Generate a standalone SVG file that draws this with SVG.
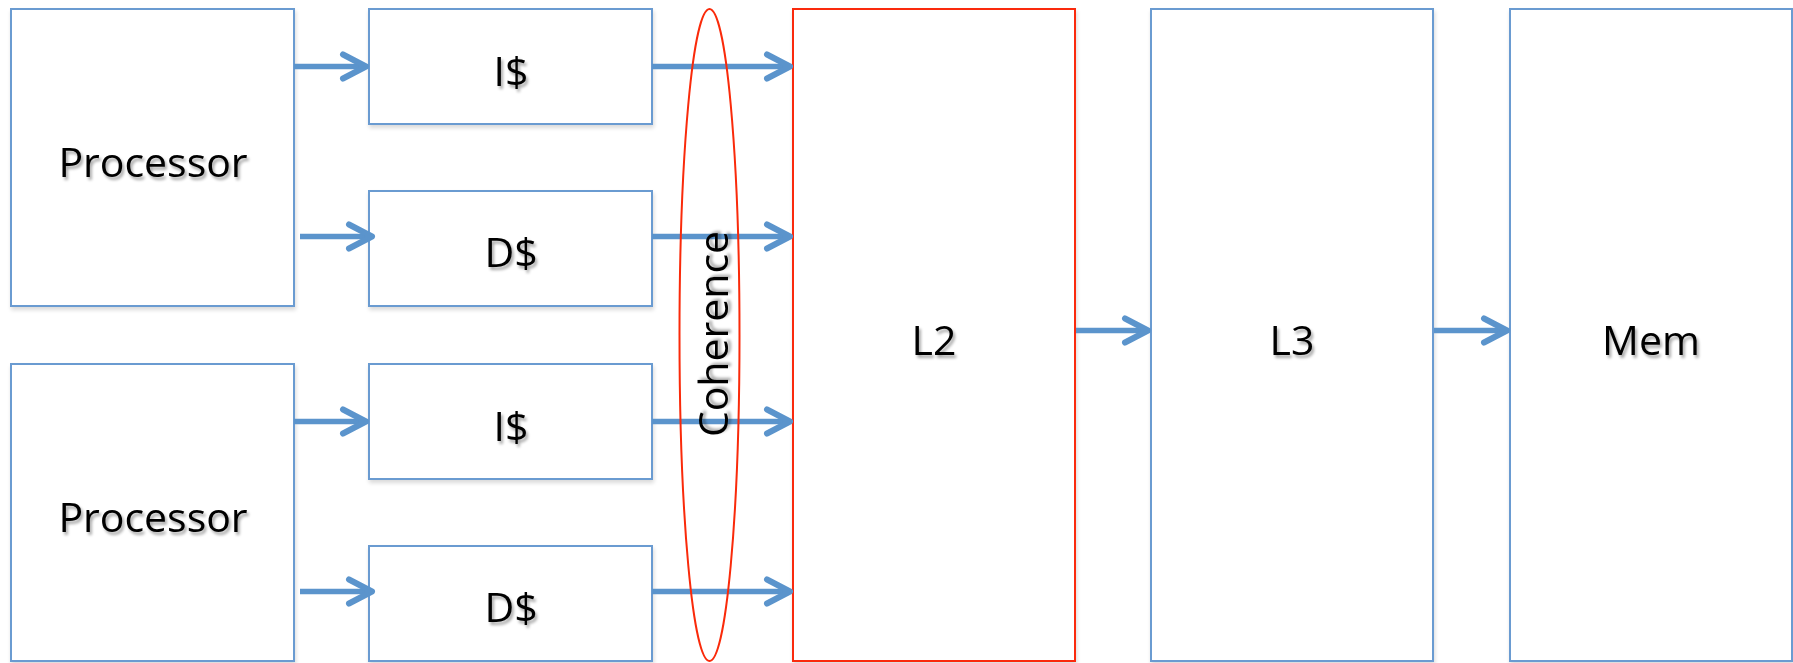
<svg xmlns="http://www.w3.org/2000/svg" width="1793" height="663" viewBox="0 0 1793 663">
  <defs>
    <style>
      .box { fill: #ffffff; stroke: #6a9bd1; stroke-width: 2; filter: url(#boxShadow); }
      .hot { fill: #ffffff; stroke: #fa2a0a; stroke-width: 2; filter: url(#boxShadow); }
      .lbl { font-family: "Open Sans", "Noto Sans", sans-serif; font-size: 41px; fill: #000000; text-anchor: middle; filter: url(#textShadow); }
      .wire { stroke: #5b94cc; stroke-width: 5.5; fill: none; stroke-linecap: butt; stroke-linejoin: round; }
      .ring { fill: none; stroke: #fa2a0a; stroke-width: 2; }
    </style>
    <filter id="textShadow" x="-10%" y="-20%" width="130%" height="150%">
      <feGaussianBlur in="SourceAlpha" stdDeviation="1.5"/>
      <feOffset dx="2" dy="3" result="off"/>
      <feComponentTransfer><feFuncA type="linear" slope="0.35"/></feComponentTransfer>
      <feMerge><feMergeNode/><feMergeNode in="SourceGraphic"/></feMerge>
    </filter>
    <filter id="boxShadow" x="-5%" y="-5%" width="115%" height="115%">
      <feGaussianBlur in="SourceAlpha" stdDeviation="2"/>
      <feOffset dx="1" dy="3" result="off"/>
      <feComponentTransfer><feFuncA type="linear" slope="0.15"/></feComponentTransfer>
      <feMerge><feMergeNode/><feMergeNode in="SourceGraphic"/></feMerge>
    </filter>
    <marker id="head" viewBox="0 0 32 32" refX="28" refY="16" markerWidth="32" markerHeight="32" markerUnits="userSpaceOnUse" orient="auto">
      <path d="M5,4 L28,16 L5,28" fill="none" stroke="#5b94cc" stroke-width="6" stroke-linecap="round" stroke-linejoin="round"/>
    </marker>
  </defs>

  <rect width="1793" height="663" fill="#ffffff"/>

  <!-- upper core -->
  <g id="proc1">
    <rect class="box" x="11" y="9" width="283" height="297"/>
    <text class="lbl" x="153" y="177">Processor</text>
  </g>
  <g id="icache1">
    <rect class="box" x="369" y="9" width="283" height="115"/>
    <text class="lbl" x="511" y="86">I$</text>
  </g>
  <g id="dcache1">
    <rect class="box" x="369" y="191" width="283" height="115"/>
    <text class="lbl" x="511" y="267">D$</text>
  </g>

  <!-- lower core -->
  <g id="proc2">
    <rect class="box" x="11" y="364" width="283" height="297"/>
    <text class="lbl" x="153" y="532">Processor</text>
  </g>
  <g id="icache2">
    <rect class="box" x="369" y="364" width="283" height="115"/>
    <text class="lbl" x="511" y="441">I$</text>
  </g>
  <g id="dcache2">
    <rect class="box" x="369" y="546" width="283" height="115"/>
    <text class="lbl" x="511" y="622">D$</text>
  </g>

  <!-- shared levels -->
  <g id="l2">
    <rect class="hot" x="793" y="9" width="282" height="652"/>
    <text class="lbl" x="934" y="355">L2</text>
  </g>
  <g id="l3">
    <rect class="box" x="1151" y="9" width="282" height="652"/>
    <text class="lbl" x="1292" y="355">L3</text>
  </g>
  <g id="mem">
    <rect class="box" x="1510" y="9" width="282" height="652"/>
    <text class="lbl" x="1651" y="355">Mem</text>
  </g>

  <!-- links between levels -->
  <g id="connectors">
    <line class="wire" x1="294" y1="66.5" x2="366" y2="66.5" marker-end="url(#head)"/>
    <line class="wire" x1="300" y1="236.5" x2="372" y2="236.5" marker-end="url(#head)"/>
    <line class="wire" x1="294" y1="421.5" x2="366" y2="421.5" marker-end="url(#head)"/>
    <line class="wire" x1="300" y1="591.5" x2="372" y2="591.5" marker-end="url(#head)"/>

    <line class="wire" x1="652" y1="66.5" x2="790" y2="66.5" marker-end="url(#head)"/>
    <line class="wire" x1="652" y1="236.5" x2="790" y2="236.5" marker-end="url(#head)"/>
    <line class="wire" x1="652" y1="421.5" x2="790" y2="421.5" marker-end="url(#head)"/>
    <line class="wire" x1="652" y1="591.5" x2="790" y2="591.5" marker-end="url(#head)"/>

    <line class="wire" x1="1076" y1="330.5" x2="1148" y2="330.5" marker-end="url(#head)"/>
    <line class="wire" x1="1434" y1="330.5" x2="1507" y2="330.5" marker-end="url(#head)"/>
  </g>

  <!-- coherence domain around the private caches' outputs -->
  <g id="coherence">
    <ellipse class="ring" cx="709.5" cy="335" rx="30" ry="326"/>
    <text class="lbl" transform="translate(728 334) rotate(-90)" x="0" y="0">Coherence</text>
  </g>
</svg>
